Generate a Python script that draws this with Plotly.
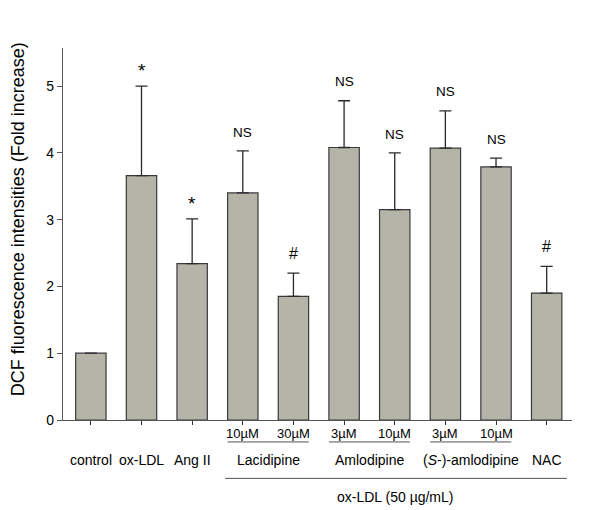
import plotly.graph_objects as go

# Data
groups = ["control", "ox-LDL", "Ang II", "Lac10", "Lac30", "Aml3", "Aml10", "SAml3", "SAml10", "NAC"]
values = [1.00, 3.66, 2.34, 3.40, 1.85, 4.08, 3.15, 4.07, 3.79, 1.90]
errors = [0.00, 1.34, 0.67, 0.63, 0.35, 0.70, 0.85, 0.56, 0.13, 0.40]
marks = ["", "*", "*", "NS", "#", "NS", "NS", "NS", "NS", "#"]

single_labels = {0: "control", 1: "ox-LDL", 2: "Ang II", 9: "NAC"}
dose_labels = {3: "10µM", 4: "30µM", 5: "3µM", 6: "10µM", 7: "3µM", 8: "10µM"}
drug_groups = [("Lacidipine", 3, 4), ("Amlodipine", 5, 6), ("(<i>S</i>-)-amlodipine", 7, 8)]
caption = "ox-LDL (50 µg/mL)"
ytitle = "DCF fluorescence intensities (Fold increase)"

x = list(range(len(groups)))
font = "Liberation Sans, Arial, sans-serif"
mark_size = {"*": 19, "NS": 13.5, "#": 16}

fig = go.Figure()
fig.add_trace(go.Bar(
    x=x, y=values, width=0.6,
    marker=dict(color="#b4b4a8", line=dict(color="#3a3a3a", width=1.2)),
    error_y=dict(type="data", array=errors, symmetric=False, arrayminus=[0] * len(errors),
                 color="#2a2a2a", thickness=1.3, width=6),
    showlegend=False,
))

annotations = []
# significance marks above error bars
for i, (v, e, m) in enumerate(zip(values, errors, marks)):
    if m:
        annotations.append(dict(x=i, y=v + e + (0.05 if m == "*" else 0.14), xref="x", yref="y",
                                text=m, showarrow=False, yanchor="bottom",
                                font=dict(size=mark_size[m], color="black")))

# bottom labels
for i, t in single_labels.items():
    annotations.append(dict(x=i, y=-0.108, xref="x", yref="paper", text=t, showarrow=False,
                            yanchor="middle", font=dict(size=14, color="black")))
for i, t in dose_labels.items():
    annotations.append(dict(x=i, y=-0.036, xref="x", yref="paper", text=t, showarrow=False,
                            yanchor="middle", font=dict(size=13, color="black")))
shapes = []
for name, a, b in drug_groups:
    annotations.append(dict(x=(a + b) / 2, y=-0.108, xref="x", yref="paper", text=name,
                            showarrow=False, yanchor="middle", font=dict(size=14, color="black")))
    shapes.append(dict(type="line", xref="x", yref="paper", x0=a - 0.3, x1=b + 0.3,
                       y0=-0.059, y1=-0.059, line=dict(color="#555555", width=1)))
shapes.append(dict(type="line", xref="x", yref="paper", x0=2.65, x1=9.4,
                   y0=-0.157, y1=-0.157, line=dict(color="#555555", width=1)))
annotations.append(dict(x=6.0, y=-0.207, xref="x", yref="paper", text=caption, showarrow=False,
                        yanchor="middle", font=dict(size=14, color="black")))

# y-axis title as a rotated annotation (sits a little above the plot centre)
annotations.append(dict(x=-0.088, y=0.54, xref="paper", yref="paper", text=ytitle,
                        textangle=-90, showarrow=False, xanchor="center", yanchor="middle",
                        font=dict(size=18, color="black")))

fig.update_layout(
    width=600, height=510,
    margin=dict(l=55, r=36, t=40, b=98),
    plot_bgcolor="white", paper_bgcolor="white",
    font=dict(family=font, color="black"),
    xaxis=dict(range=[-0.55, 9.5], tickvals=x, ticktext=[""] * len(x), ticks="outside",
               ticklen=4, tickcolor="#333333", showline=True, linecolor="#555555",
               linewidth=1.2, showgrid=False, zeroline=False),
    yaxis=dict(range=[0, 5.57], tickvals=[0, 1, 2, 3, 4, 5], ticks="outside", ticklen=5,
               tickcolor="#555555", showline=True, linecolor="#555555", linewidth=1.2,
               showgrid=False, zeroline=False, tickfont=dict(size=14)),
    annotations=annotations,
    shapes=shapes,
)

fig.write_html("out.html")
